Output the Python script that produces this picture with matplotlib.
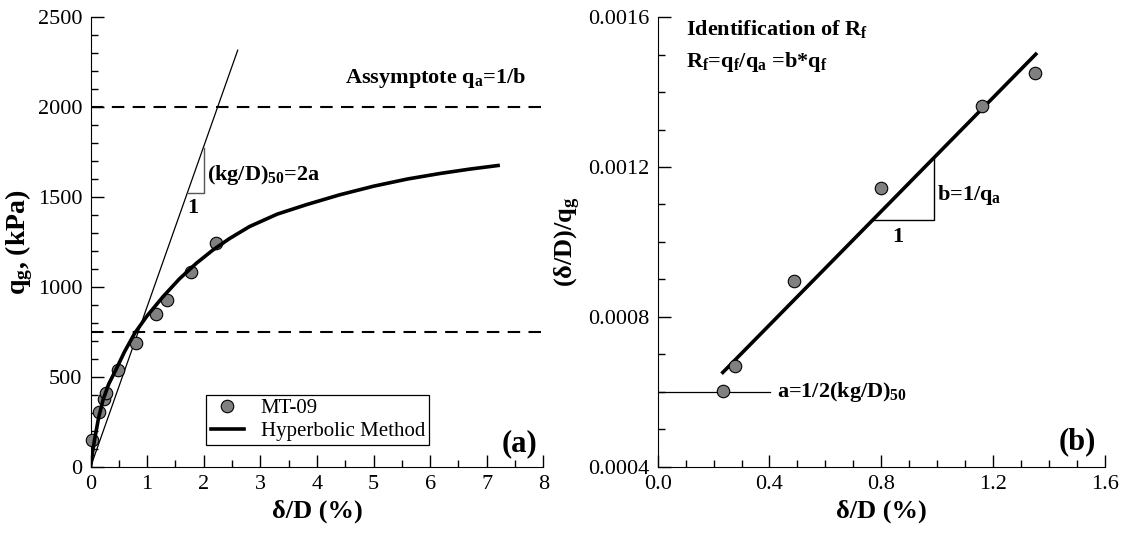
import matplotlib
matplotlib.use("Agg")
import matplotlib.pyplot as plt
from matplotlib.ticker import MultipleLocator, FormatStrFormatter

plt.rcParams['font.family'] = 'serif'
plt.rcParams['font.serif'] = ['Liberation Serif', 'Times New Roman', 'DejaVu Serif']
plt.rcParams['mathtext.fontset'] = 'custom'
plt.rcParams['mathtext.rm'] = 'Liberation Serif'
plt.rcParams['mathtext.bf'] = 'Liberation Serif:bold'
plt.rcParams['mathtext.it'] = 'Liberation Serif:italic'

# (a) load test MT-09
disp = [0.03, 0.15, 0.23, 0.28, 0.49, 0.81, 1.16, 1.35, 1.78, 2.21]
qg = [152, 306, 377, 413, 541, 691, 851, 930, 1082, 1242]

# hyperbolic curve
hyp_x = [0, 0.035, 0.07, 0.14, 0.22, 0.32, 0.44, 0.6, 0.78, 1.0, 1.28, 1.57, 1.87,
         2.16, 2.46, 2.81, 3.3, 3.82, 4.4, 5.0, 5.6, 6.18, 6.7, 7.2]
hyp_q = [0, 80, 150, 270, 372, 460, 535, 640, 743, 840, 946, 1045, 1132,
         1205, 1270, 1336, 1405, 1458, 1512, 1560, 1600, 1631, 1655, 1675]

tan_x = [0, 2.6]
tan_q = [0, 2316]
asym_q = 2000
half_q = 750

# (b) transformed data
disp_b = [0.234, 0.278, 0.486, 0.798, 1.160, 1.349]
ratio_b = [0.000602, 0.000670, 0.000897, 0.001143, 0.001362, 0.001452]
fit_x = [0.233, 1.353]
fit_y = [0.000652, 0.001501]

fig = plt.figure(figsize=(11.32, 5.33), dpi=100)
ax1 = fig.add_axes([0.080, 0.124, 0.400, 0.844])
ax2 = fig.add_axes([0.581, 0.124, 0.395, 0.844])

for ax in (ax1, ax2):
    ax.spines['top'].set_visible(False)
    ax.spines['right'].set_visible(False)
    ax.tick_params(which='both', direction='in', labelsize=16, width=1)
    ax.tick_params(which='major', length=9, pad=6)
    ax.tick_params(which='minor', length=5)

# ---- panel (a)
ax1.axhline(asym_q, color='black', ls=(0, (6, 4)), lw=1.5)
ax1.axhline(half_q, color='black', ls=(0, (6, 4)), lw=1.5)
ax1.plot(tan_x, tan_q, color='black', lw=0.9)
ax1.plot([1.71, 2.0, 2.0], [1523, 1523, 1770], color='#555555', lw=1.0)
ax1.plot(disp, qg, 'o', ms=9, mfc='#808080', mec='black', mew=0.8,
         label='MT-09', clip_on=False, zorder=3)
ax1.plot(hyp_x, hyp_q, color='black', lw=2.6, label='Hyperbolic Method', zorder=4)

ax1.text(1.81, 1440, '1', fontsize=16, fontweight='bold', ha='center', va='center')
ax1.text(2.06, 1620, r'(kg/D)$_{\mathbf{50}}$=2a', fontsize=16, fontweight='bold',
         ha='left', va='center')
ax1.text(7.7, 2095, r'Assymptote $\mathbf{q_a}$=1/b', fontsize=16, fontweight='bold',
         ha='right', va='bottom')
ax1.text(7.9, 130, '(a)', fontsize=22, fontweight='bold', ha='right', va='center')

ax1.set_xlim(0, 8)
ax1.set_ylim(0, 2500)
ax1.xaxis.set_major_locator(MultipleLocator(1))
ax1.xaxis.set_minor_locator(MultipleLocator(0.5))
ax1.yaxis.set_major_locator(MultipleLocator(500))
ax1.yaxis.set_minor_locator(MultipleLocator(100))
ax1.set_xlabel('δ/D (%)', fontsize=19, fontweight='bold', labelpad=4)
ax1.set_ylabel(r'$\mathbf{q_g}$, (kPa)', fontsize=20, fontweight='bold', labelpad=2)

leg = ax1.legend(loc='lower left', bbox_to_anchor=(0.256, 0.048), fontsize=15,
                 frameon=True, fancybox=False, edgecolor='black', framealpha=1,
                 borderpad=0.2, handlelength=1.6, handletextpad=0.8,
                 labelspacing=0.15, borderaxespad=0)
leg.get_frame().set_linewidth(0.9)

# ---- panel (b)
ax2.plot(fit_x, fit_y, color='black', lw=2.6, zorder=3)
ax2.plot(disp_b, ratio_b, 'o', ms=9, mfc='#808080', mec='black', mew=0.8, zorder=4)
ax2.plot([0.772, 0.987, 0.987], [0.001058, 0.001058, 0.001224], color='black', lw=1.0)
ax2.plot([0, 0.402], [0.0006, 0.0006], color='black', lw=0.9, zorder=2)

ax2.text(0.858, 0.001012, '1', fontsize=16, fontweight='bold', ha='center', va='center')
ax2.text(1.0, 0.001124, r'b=1/$\mathbf{q_a}$', fontsize=16, fontweight='bold',
         ha='left', va='center')
ax2.text(0.428, 0.0006, r'a=1/2(kg/D)$_{\mathbf{50}}$', fontsize=16, fontweight='bold',
         ha='left', va='center')
ax2.text(0.103, 0.001569, r'Identification of $\mathbf{R_f}$', fontsize=16,
         fontweight='bold', ha='left', va='center')
ax2.text(0.103, 0.001479, r'$\mathbf{R_f}$=$\mathbf{q_f}$/$\mathbf{q_a}$ =b*$\mathbf{q_f}$',
         fontsize=16, fontweight='bold', ha='left', va='center')
ax2.text(1.57, 0.000467, '(b)', fontsize=22, fontweight='bold', ha='right', va='center')

ax2.set_xlim(0, 1.6)
ax2.set_ylim(0.0004, 0.0016)
ax2.xaxis.set_major_locator(MultipleLocator(0.4))
ax2.xaxis.set_minor_locator(MultipleLocator(0.1))
ax2.yaxis.set_major_locator(MultipleLocator(0.0004))
ax2.yaxis.set_minor_locator(MultipleLocator(0.0001))
ax2.xaxis.set_major_formatter(FormatStrFormatter('%.1f'))
ax2.yaxis.set_major_formatter(FormatStrFormatter('%.4f'))
ax2.set_xlabel('δ/D (%)', fontsize=19, fontweight='bold', labelpad=4)
ax2.set_ylabel(r'(δ/D)/$\mathbf{q_g}$', fontsize=19, fontweight='bold', labelpad=4)

fig.savefig('out.png', dpi=100)
